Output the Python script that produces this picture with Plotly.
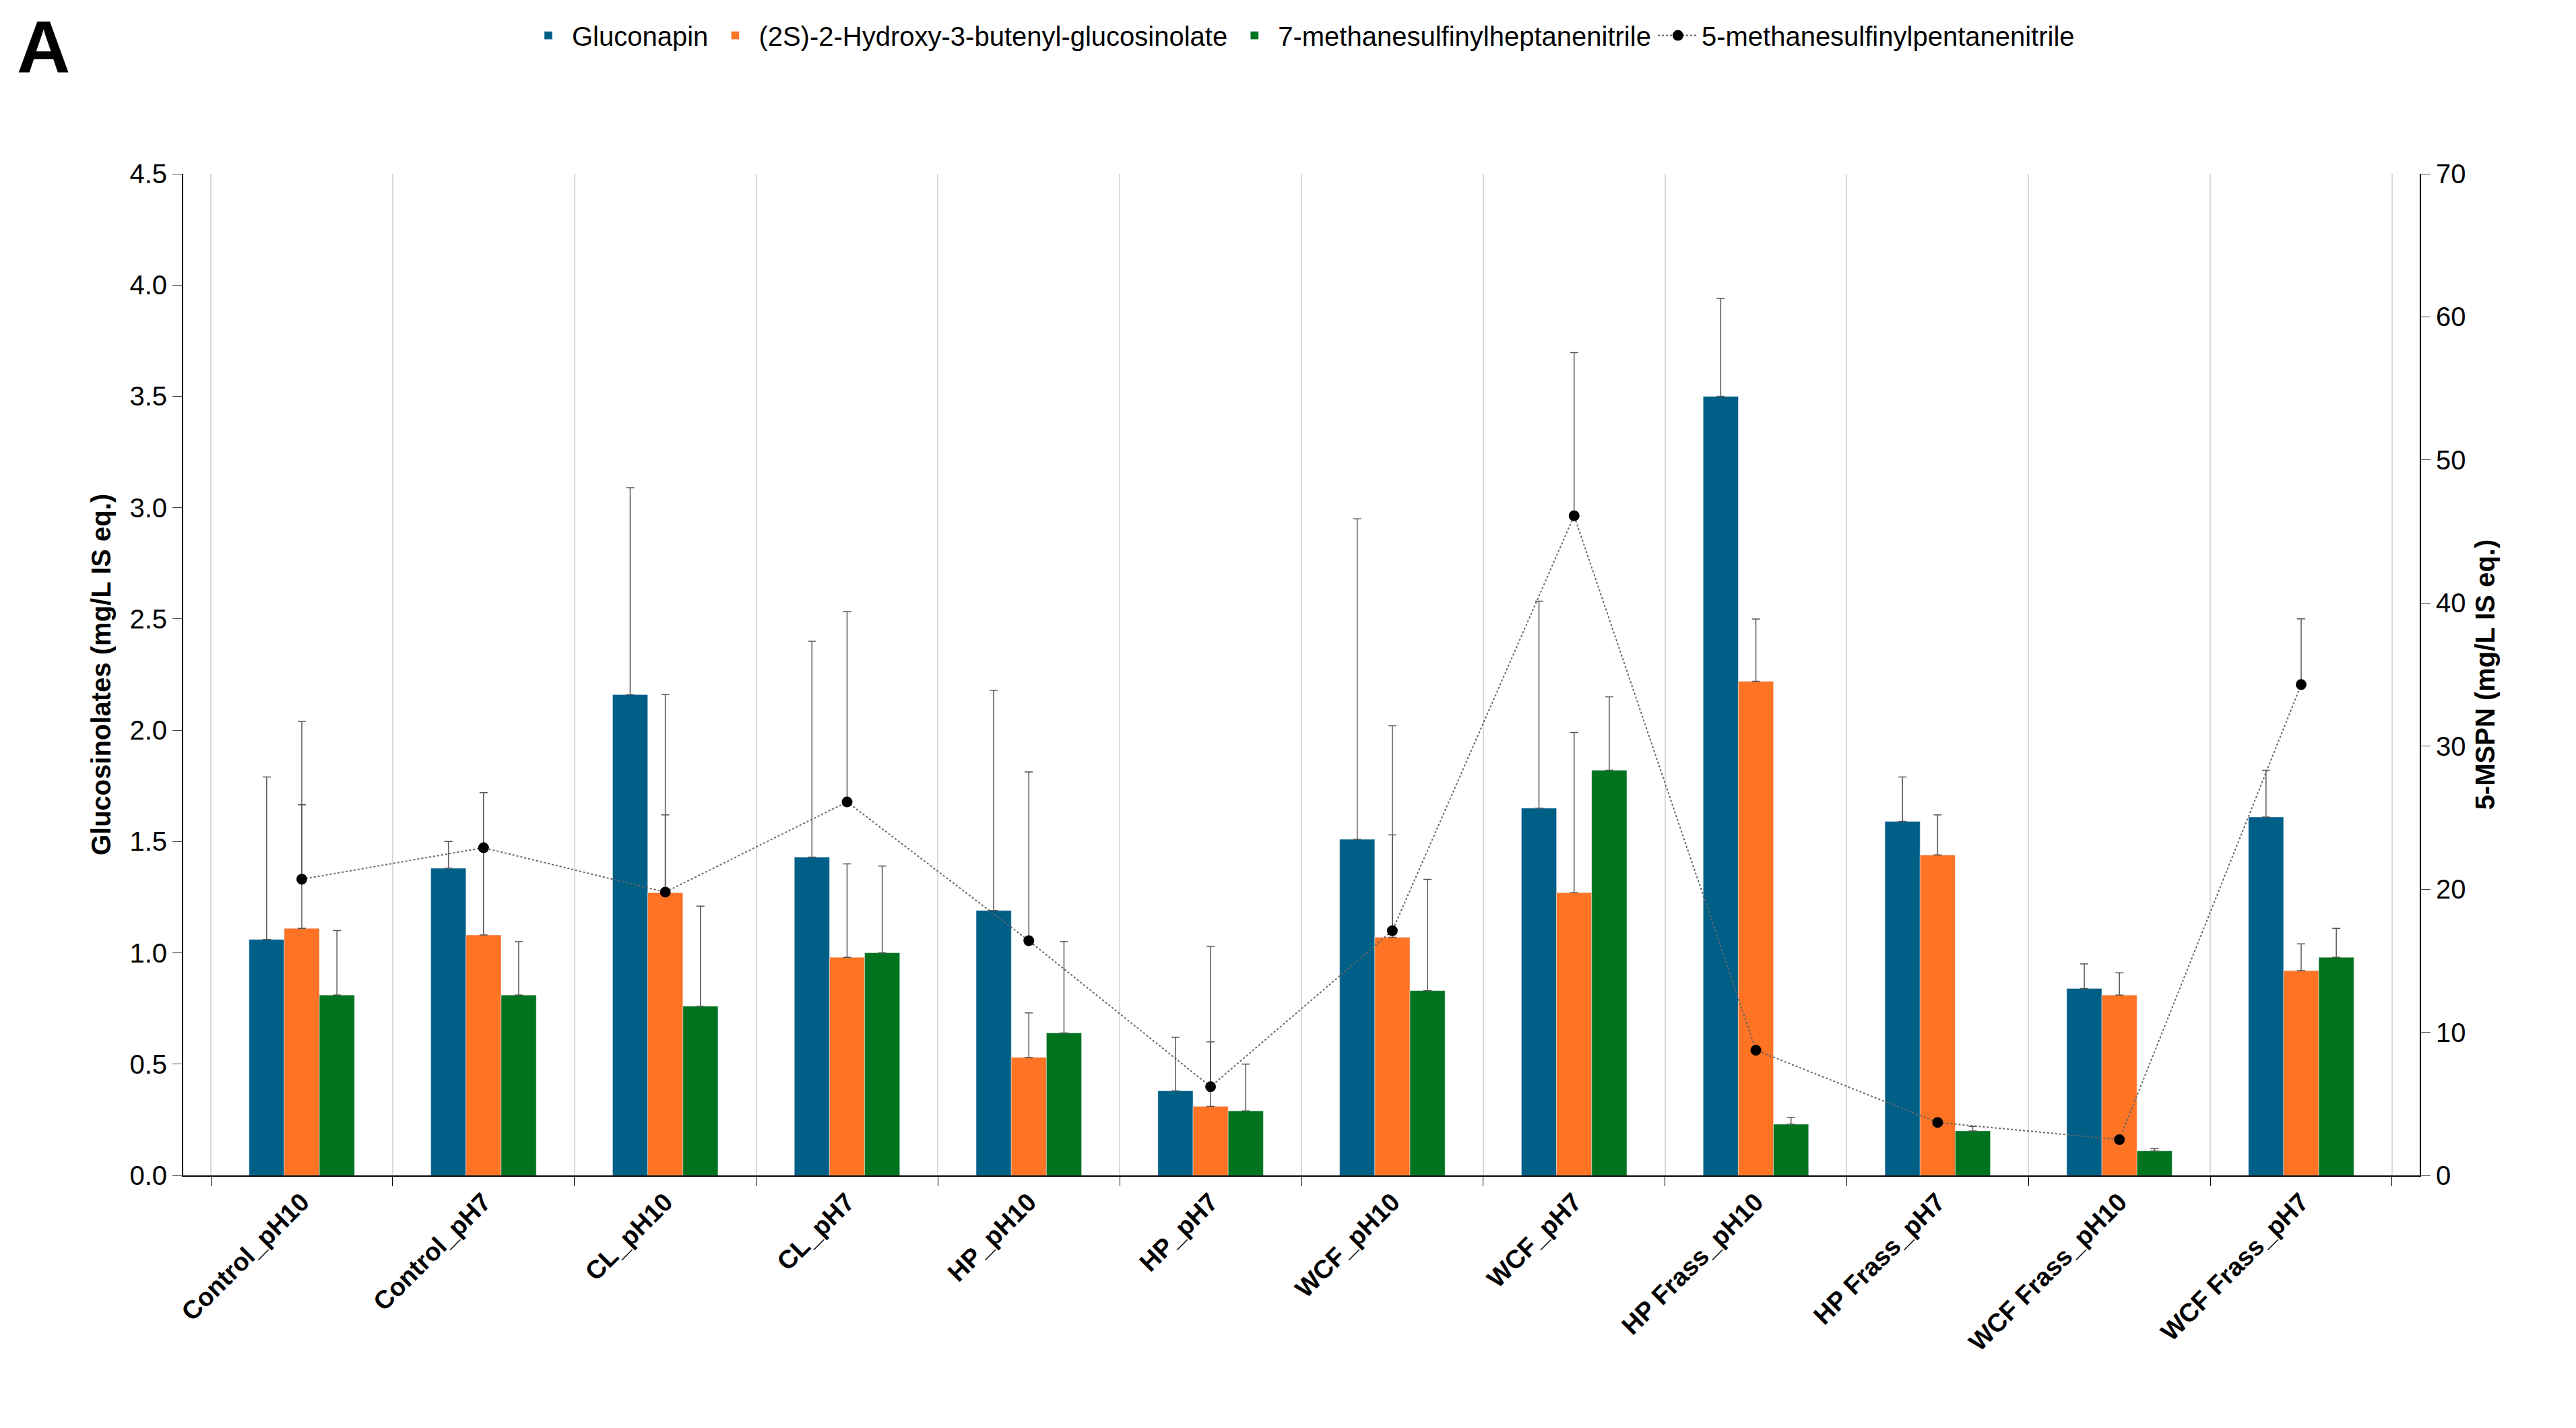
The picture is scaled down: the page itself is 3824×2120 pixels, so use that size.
import plotly.graph_objects as go

categories = ["Control_pH10", "Control_pH7", "CL_pH10", "CL_pH7", "HP_pH10", "HP_pH7",
              "WCF_pH10", "WCF_pH7", "HP Frass_pH10", "HP Frass_pH7", "WCF Frass_pH10", "WCF Frass_pH7"]

gluconapin = [1.06, 1.38, 2.16, 1.43, 1.19, 0.38, 1.51, 1.65, 3.50, 1.59, 0.84, 1.61]
gluconapin_err = [0.73, 0.12, 0.93, 0.97, 0.99, 0.24, 1.44, 0.93, 0.44, 0.20, 0.11, 0.21]

hydroxy = [1.11, 1.08, 1.27, 0.98, 0.53, 0.31, 1.07, 1.27, 2.22, 1.44, 0.81, 0.92]
hydroxy_err = [0.93, 0.64, 0.89, 0.42, 0.20, 0.29, 0.95, 0.72, 0.28, 0.18, 0.10, 0.12]

msh = [0.81, 0.81, 0.76, 1.00, 0.64, 0.29, 0.83, 1.82, 0.23, 0.20, 0.11, 0.98]
msh_err = [0.29, 0.24, 0.45, 0.39, 0.41, 0.21, 0.50, 0.33, 0.03, 0.02, 0.01, 0.13]

mspn = [20.7, 22.9, 19.8, 26.1, 16.4, 6.2, 17.1, 46.1, 8.75, 3.7, 2.5, 34.3]
mspn_err = [5.2, 0.0, 5.4, 13.3, 11.8, 9.8, 6.7, 11.4, 0.0, 0.0, 0.0, 4.6]

zeros = [0] * len(categories)
err_style = dict(type="data", symmetric=False, arrayminus=zeros, color="#555555", thickness=1.5, width=6)

fig = go.Figure()
for name, vals, errs, col in [
    ("Gluconapin", gluconapin, gluconapin_err, "#005f87"),
    ("(2S)-2-Hydroxy-3-butenyl-glucosinolate", hydroxy, hydroxy_err, "#ff7324"),
    ("7-methanesulfinylheptanenitrile", msh, msh_err, "#00731e"),
]:
    fig.add_trace(go.Bar(x=categories, y=vals, name=name, marker_color=col,
                         error_y=dict(array=errs, **err_style)))

fig.add_trace(go.Scatter(x=categories, y=mspn, name="5-methanesulfinylpentanenitrile", yaxis="y2",
                         mode="lines+markers",
                         line=dict(color="#666666", width=2, dash="dot"),
                         marker=dict(color="black", size=16),
                         error_y=dict(array=mspn_err, **err_style)))

fig.update_layout(
    width=3824, height=2120,
    plot_bgcolor="white", paper_bgcolor="white",
    font=dict(family="Liberation Sans", size=36, color="black"),
    margin=dict(l=264, r=240, t=215, b=383),
    barmode="group", bargap=0.42, bargroupgap=0,
    legend=dict(orientation="h", x=0.5, xanchor="center", y=1.16, yanchor="top",
                font=dict(size=40), itemwidth=60),
    xaxis=dict(tickson="boundaries", ticks="outside", ticklen=14, tickcolor="black",
               showgrid=True, gridcolor="#d9d9d9", gridwidth=2,
               showline=True, linecolor="black", linewidth=2,
               tickangle=-45, tickfont=dict(size=38, family="Liberation Sans", weight="bold")),
    yaxis=dict(title=dict(text="<b>Glucosinolates (mg/L IS eq.)</b>", font=dict(size=40)),
               range=[0, 4.5], dtick=0.5, tickformat=".1f", showgrid=False,
               showline=True, linecolor="black", linewidth=2,
               ticks="outside", ticklen=14, tickfont=dict(size=40)),
    yaxis2=dict(title=dict(text="<b>5-MSPN (mg/L IS eq.)</b>", font=dict(size=40)),
                overlaying="y", side="right", range=[0, 70], dtick=10, showgrid=False,
                showline=True, linecolor="black", linewidth=2,
                ticks="outside", ticklen=14, tickfont=dict(size=40)),
)
fig.add_annotation(text="<b>A</b>", xref="paper", yref="paper", x=-0.075, y=1.17,
                   xanchor="left", yanchor="top", showarrow=False, font=dict(size=110))

fig.write_html("out.html")
